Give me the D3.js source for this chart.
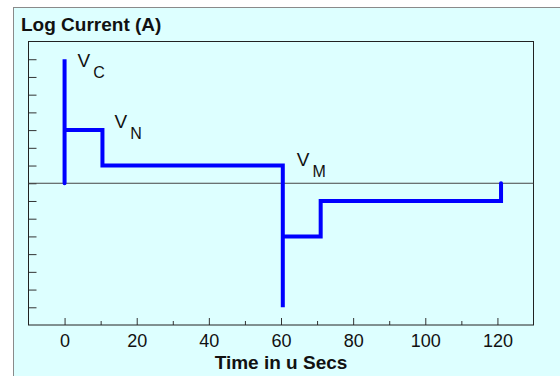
<!DOCTYPE html>
<html>
<head>
<meta charset="utf-8">
<script src="https://cdn.jsdelivr.net/npm/d3@7"></script>
<style>
  body { margin: 0; background: #fff; }
  svg { display: block; font-family: "Liberation Sans", Arial, sans-serif; }
</style>
</head>
<body>
<div id="chart"></div>
<script>
// step trace of log current vs time
const times = [0, 0, 0, 10.5, 10.5, 60.5, 60.5, 60.5, 71, 71, 121, 121];
const logCurrent = [0, 7, 3, 3, 1, 1, -7, -3, -3, -1, -1, 0];

const xMajorTicks = [0, 20, 40, 60, 80, 100, 120];
const xMinorTicks = [10, 30, 50, 70, 90, 110];
const yTicks = [-7, -6, -5, -4, -3, -2, -1, 0, 1, 2, 3, 4, 5, 6, 7];

const labelSubs = ['C', 'N', 'M'];
const labelTimes = [0, 10.5, 60.5];
const labelLevels = [7, 3, 1];

const width = 560;
const height = 376;
const plot = { left: 28.5, right: 533.5, top: 41.5, bottom: 325 };

const svg = d3.select('#chart').append('svg')
  .attr('width', width)
  .attr('height', height);

// panel background
svg.append('rect')
  .attr('x', 13.5)
  .attr('y', 7.5)
  .attr('width', width)
  .attr('height', height)
  .attr('fill', '#ddffff')
  .attr('stroke', '#8a8a8a');

const x = d3.scaleLinear().domain([-10, 130]).range([plot.left, plot.right]);
const y = d3.scaleLinear().domain([-8, 8]).range([plot.bottom, plot.top]);

svg.append('text')
  .attr('x', 21)
  .attr('y', 31)
  .attr('font-size', 19)
  .attr('font-weight', 'bold')
  .attr('fill', '#111')
  .text('Log Current (A)');

// x axis: major + minor ticks pointing inward
const xMajor = svg.append('g')
  .attr('transform', `translate(0,${plot.bottom})`)
  .call(d3.axisBottom(x).tickValues(xMajorTicks).tickSizeInner(-7).tickSizeOuter(0).tickPadding(9));

const xMinor = svg.append('g')
  .attr('transform', `translate(0,${plot.bottom})`)
  .call(d3.axisBottom(x).tickValues(xMinorTicks).tickSizeInner(-4).tickSizeOuter(0).tickFormat(''));

const yAxis = svg.append('g')
  .attr('transform', `translate(${plot.left},0)`)
  .call(d3.axisLeft(y).tickValues(yTicks).tickSizeInner(-8).tickSizeOuter(0).tickFormat(''));

[xMajor, xMinor, yAxis].forEach(g => {
  g.select('.domain').remove();
  g.selectAll('line').attr('stroke', '#333');
});

xMajor.selectAll('text')
  .attr('font-size', 18)
  .attr('font-family', '"Liberation Sans", Arial, sans-serif')
  .attr('fill', '#111');

svg.append('text')
  .attr('x', (plot.left + plot.right) / 2)
  .attr('y', 369)
  .attr('text-anchor', 'middle')
  .attr('font-size', 19)
  .attr('font-weight', 'bold')
  .attr('fill', '#111')
  .text('Time in u Secs');

// plot frame
svg.append('rect')
  .attr('x', plot.left)
  .attr('y', plot.top)
  .attr('width', plot.right - plot.left)
  .attr('height', plot.bottom - plot.top)
  .attr('fill', 'none')
  .attr('stroke', '#222');

// zero line
svg.append('line')
  .attr('x1', plot.left)
  .attr('x2', plot.right)
  .attr('y1', y(0))
  .attr('y2', y(0))
  .attr('stroke', '#444');

const line = d3.line()
  .x(i => x(times[i]))
  .y(i => y(logCurrent[i]));

svg.append('path')
  .attr('d', line(d3.range(times.length)))
  .attr('fill', 'none')
  .attr('stroke', '#0000ff')
  .attr('stroke-width', 4)
  .attr('stroke-linecap', 'round');

// V labels with subscripts
const labelOffsets = [[13, 8], [12, -2], [14, 0]];

labelSubs.forEach((sub, i) => {
  const t = svg.append('text')
    .attr('x', x(labelTimes[i]) + labelOffsets[i][0])
    .attr('y', y(labelLevels[i]) + labelOffsets[i][1])
    .attr('font-size', 19)
    .attr('fill', '#111')
    .text('V');

  t.append('tspan')
    .attr('dx', 3)
    .attr('dy', 11)
    .attr('font-size', 16)
    .text(sub);
});
</script>
</body>
</html>
